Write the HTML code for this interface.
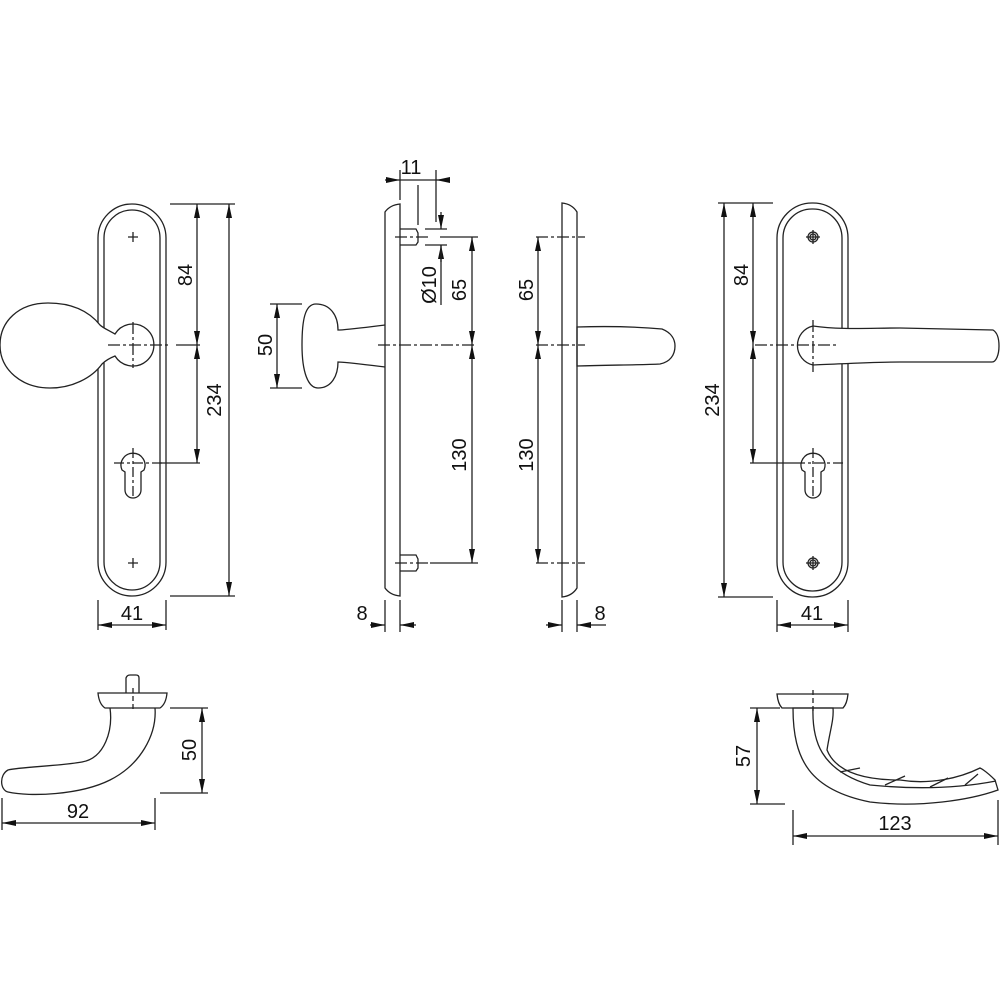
<!DOCTYPE html>
<html><head><meta charset="utf-8"><style>
html,body{margin:0;padding:0;background:#fff;}
svg{display:block}
text{font-family:"Liberation Sans",sans-serif;font-size:20px;fill:#111;}
</style></head><body>
<svg width="1000" height="1000" viewBox="0 0 1000 1000" xmlns="http://www.w3.org/2000/svg">
<defs>
<marker id="a" viewBox="0 0 14 6" refX="14" refY="3" markerWidth="14" markerHeight="6" markerUnits="userSpaceOnUse" orient="auto-start-reverse">
<path d="M0,0 L14,3 L0,6 z" fill="#111"/></marker>
</defs>
<g fill="none" stroke="#222" stroke-width="1.3">
<!-- LEFT PLATE -->
<rect x="98" y="204" width="68" height="392" rx="34" fill="#fff"/>
<rect x="104" y="210" width="56" height="380" rx="28"/>
<path d="M133,232 v10 M128,237 h10 M133,558 v10 M128,563 h10"/>
<path d="M115,334 C108,330 103,328 100,325 C88,310 70,303 48,303 C18,303 0,322 0,345 C0,370 22,388 50,388 C72,388 92,378 102,364 C106,360 110,358 115,356 A21,21 0 1 0 115,334 Z" fill="#fff"/>
<path d="M108,345 h62 M133,322 v46" stroke-dasharray="12,3,3,3"/>
<path d="M122,470 A12,12 0 1 1 144,470 L141,472 V490 A8,8 0 0 1 125,490 V472 Z"/>
<path d="M114,463 h48 M133,448 v50" stroke-dasharray="10,3,3,3"/>
<!-- left dims -->
<path d="M170,204 H235 M170,596 H235 M176,345 H200 M160,463 H200"/>
<path d="M197,204 V345" marker-start="url(#a)" marker-end="url(#a)"/>
<path d="M197,345 V463" marker-start="url(#a)" marker-end="url(#a)"/>
<path d="M229,204 V596" marker-start="url(#a)" marker-end="url(#a)"/>
<path d="M98,600 V630 M166,600 V630"/>
<path d="M98,625 H166" marker-start="url(#a)" marker-end="url(#a)"/>

<!-- SIDE VIEW 1 -->
<path d="M385,212 Q390,205 400,204 V596 Q390,595 385,588 Z" fill="#fff"/>
<path d="M385,325 C360,328 345,330 338,330 C338,315 330,304 316,304 C305,304 302,320 302,345 C302,372 308,388 318,388 C332,388 338,375 338,362 C345,362 360,364 385,367"/>
<path d="M400,229 H416 L418,233 V242 L416,245 H400 M400,555 H416 L418,559 V568 L416,571 H400"/>
<path d="M395,237 H428 M395,563 H428 M378,345 H475" stroke-dasharray="12,3,3,3"/>
<path d="M440,237 H478 M430,563 H478"/>
<path d="M472,237 V345" marker-start="url(#a)" marker-end="url(#a)"/>
<path d="M472,345 V563" marker-start="url(#a)" marker-end="url(#a)"/>
<path d="M400,170 V200 M418,185 V225 M436,170 V222"/>
<path d="M385,180 H400" marker-end="url(#a)"/>
<path d="M400,180 H436"/>
<path d="M450,180 H436" marker-end="url(#a)"/>
<path d="M425,229 H447 M425,245 H447"/>
<path d="M441,212 V229" marker-end="url(#a)"/>
<path d="M441,262 V245" marker-end="url(#a)"/>
<path d="M441,245 V305"/>
<path d="M302,304 H270 M302,388 H270"/>
<path d="M277,304 V388" marker-start="url(#a)" marker-end="url(#a)"/>
<path d="M385,600 V632 M400,600 V632"/>
<path d="M370,625 H385" marker-end="url(#a)"/>
<path d="M416,625 H400" marker-end="url(#a)"/>

<!-- SIDE VIEW 2 -->
<path d="M577,212 Q572,204 562,203 V597 Q572,596 577,588 Z" fill="#fff"/>
<path d="M577,327 C610,326 640,327 662,329 C672,333 675,340 675,346 C675,355 670,362 660,364 C640,365 610,365 577,366 Z"/>
<path d="M536,237 H585 M536,563 H585 M536,345 H585" stroke-dasharray="12,3,3,3"/>
<path d="M538,237 V345" marker-start="url(#a)" marker-end="url(#a)"/>
<path d="M538,345 V563" marker-start="url(#a)" marker-end="url(#a)"/>
<path d="M562,600 V632 M577,600 V632"/>
<path d="M546,625 H562" marker-end="url(#a)"/>
<path d="M592,625 H577" marker-end="url(#a)"/>
<path d="M592,625 H606"/>

<!-- RIGHT PLATE -->
<rect x="777" y="203" width="71" height="394" rx="35" fill="#fff"/>
<rect x="783" y="209" width="59" height="382" rx="29"/>
<circle cx="813" cy="237" r="5"/><circle cx="813" cy="237" r="3"/>
<circle cx="813" cy="563" r="5"/><circle cx="813" cy="563" r="3"/>
<path d="M813,230 v14 M806,237 h14 M813,556 v14 M806,563 h14"/>
<path d="M813,326 C840,330 870,328 900,328 L993,330 C998,333 999,340 999,346 C999,355 996,362 992,362 L900,362 C870,362 840,364 813,365 A20,20 0 0 1 813,326 Z" fill="#fff"/>
<path d="M755,345 H838 M813,320 V372" stroke-dasharray="12,3,3,3"/>
<path d="M802,470 A12,12 0 1 1 824,470 L821,472 V490 A8,8 0 0 1 805,490 V472 Z"/>
<path d="M795,463 h48 M813,448 v50" stroke-dasharray="10,3,3,3"/>
<path d="M750,463 H795"/>
<path d="M718,203 H773 M718,597 H773"/>
<path d="M724,203 V597" marker-start="url(#a)" marker-end="url(#a)"/>
<path d="M753,203 V345" marker-start="url(#a)" marker-end="url(#a)"/>
<path d="M753,345 V463" marker-start="url(#a)" marker-end="url(#a)"/>
<path d="M777,600 V632 M848,600 V632"/>
<path d="M777,625 H848" marker-start="url(#a)" marker-end="url(#a)"/>

<!-- BOTTOM LEFT -->
<path d="M126,693 V678 Q127,675 130,675 H136 Q139,675 139,678 V693"/>
<path d="M98,693 H167 Q166,704 160,708 H105 Q99,704 98,693 Z" fill="#fff"/>
<path d="M133,688 V712" stroke-dasharray="5,3"/>
<path d="M110,708 C113,730 105,758 82,762 C60,766 20,767 8,770 C-1,775 0,790 8,792 C30,797 80,795 110,780 C140,765 157,735 155,708"/>
<path d="M170,708 H208 M160,793 H208"/>
<path d="M202,708 V793" marker-start="url(#a)" marker-end="url(#a)"/>
<path d="M2,798 V830 M155,798 V830"/>
<path d="M2,823 H155" marker-start="url(#a)" marker-end="url(#a)"/>

<!-- BOTTOM RIGHT -->
<path d="M777,694 H848 Q847,704 843,708 H782 Q778,704 777,694 Z" fill="#fff"/>
<path d="M813,690 V712" stroke-dasharray="5,3"/>
<path d="M793,708 C793,760 810,790 870,802 C920,808 970,800 998,790 L995,780 C985,770 980,768 980,768 C960,778 930,785 900,780 C860,780 835,770 827,750 C830,730 834,720 833,708 Z"/>
<path d="M813,708 C812,740 820,770 870,785 C920,790 960,788 996,781"/>
<path d="M840,772 L860,768 M885,785 L905,776 M930,787 L948,778 M965,785 L978,774"/>
<path d="M750,708 H780 M750,804 H785"/>
<path d="M757,708 V804" marker-start="url(#a)" marker-end="url(#a)"/>
<path d="M793,810 V845 M998,800 V845"/>
<path d="M793,836 H998" marker-start="url(#a)" marker-end="url(#a)"/>
</g>
<!-- TEXT -->
<text transform="translate(192,275) rotate(-90)" text-anchor="middle">84</text>
<text transform="translate(221,400) rotate(-90)" text-anchor="middle">234</text>
<text x="132" y="620" text-anchor="middle">41</text>
<text x="411" y="174" text-anchor="middle">11</text>
<text transform="translate(436,285) rotate(-90)" text-anchor="middle">Ø10</text>
<text transform="translate(466,290) rotate(-90)" text-anchor="middle">65</text>
<text transform="translate(466,455) rotate(-90)" text-anchor="middle">130</text>
<text transform="translate(272,345) rotate(-90)" text-anchor="middle">50</text>
<text x="362" y="620" text-anchor="middle">8</text>
<text transform="translate(533,290) rotate(-90)" text-anchor="middle">65</text>
<text transform="translate(533,455) rotate(-90)" text-anchor="middle">130</text>
<text x="600" y="620" text-anchor="middle">8</text>
<text transform="translate(748,275) rotate(-90)" text-anchor="middle">84</text>
<text transform="translate(719,400) rotate(-90)" text-anchor="middle">234</text>
<text x="812" y="620" text-anchor="middle">41</text>
<text transform="translate(196,750) rotate(-90)" text-anchor="middle">50</text>
<text x="78" y="818" text-anchor="middle">92</text>
<text transform="translate(750,756) rotate(-90)" text-anchor="middle">57</text>
<text x="895" y="830" text-anchor="middle">123</text>
</svg>
</body></html>
